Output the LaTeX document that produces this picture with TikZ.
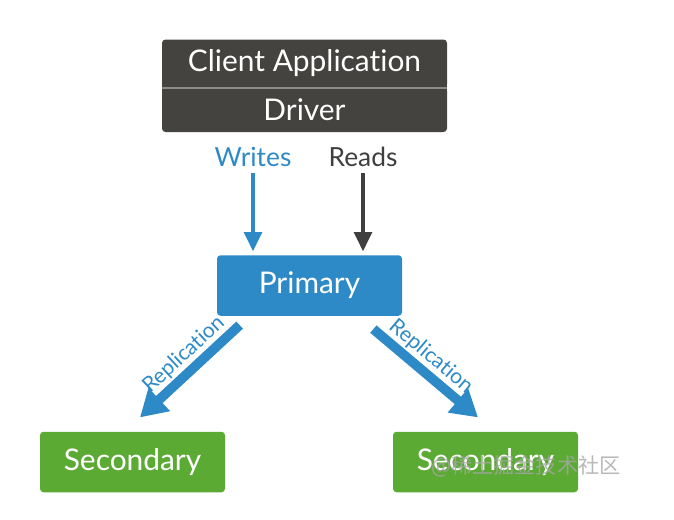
\documentclass[tikz,border=0pt]{standalone}
\usepackage{fontspec}
\setmainfont{Lato}[Ligatures=NoCommon]
\newfontfamily\cjkfont{Noto Sans CJK SC}
\usetikzlibrary{arrows.meta}
\definecolor{driver-gray}{HTML}{45433F}
\definecolor{rule-gray}{HTML}{8C8B88}
\definecolor{mongo-blue}{HTML}{2D8AC7}
\definecolor{mongo-green}{HTML}{5BAA34}
\definecolor{read-gray}{HTML}{3F3F3F}

\begin{document}
\begin{tikzpicture}[
    every node/.style={font=\fontsize{17}{20}\selectfont, text=white},
    box/.style={minimum width=3.7cm, minimum height=1.21cm, rounded corners=2pt},
    stack/.style={fill=driver-gray, minimum width=5.7cm},
    label/.style={font=\fontsize{15}{17}\selectfont},
    replabel/.style={sloped, above, inner sep=1pt, pos=0.45, text=mongo-blue,
      font=\fontsize{12}{14}\selectfont},
    feed/.style={-{Triangle[width=10pt,length=11pt]}, line width=2.2pt, shorten >=2pt},
    repl/.style={-{Triangle[width=17pt,length=15pt]}, line width=5.5pt, draw=mongo-blue}
  ]
    \useasboundingbox (0,0) rectangle (13.48,-10.38);
    % client side
    \node[stack, minimum height=0.96cm, rounded corners=2pt] (client) at (6.09,-1.27) {Client Application};
    \node[stack, minimum height=0.9cm, rounded corners=2pt] (driver) at (6.09,-2.19) {Driver};
    \fill[driver-gray] (client.south west) rectangle ([yshift=-3pt]client.south east);
    \fill[driver-gray] ([yshift=3pt]driver.north west) rectangle (driver.north east);
    \draw[rule-gray, line width=0.8pt] (client.south west) -- (client.south east);
    \node[label, text=mongo-blue] (writes) at (5.06,-3.14) {Writes};
    \node[label, text=read-gray] (reads) at (7.26,-3.14) {Reads};
    % replica set
    \node[box, fill=mongo-blue] (primary) at (6.19,-5.71) {Primary};
    \node[box, fill=mongo-green] (secLeft) at (2.65,-9.24) {Secondary};
    \node[box, fill=mongo-green] (secRight) at (9.71,-9.24) {Secondary};
    \draw[feed, mongo-blue] (writes.south) -- (writes.south |- primary.north);
    \draw[feed, read-gray] (reads.south) -- (reads.south |- primary.north);
    \draw[repl] ([shift={(0.46,-0.18)}]primary.south west) -- node[replabel] {Replication} ([shift={(0.15,0.28)}]secLeft.north);
    \draw[repl] ([shift={(-0.58,-0.26)}]primary.south east) -- node[replabel] {Replication} ([shift={(-0.15,0.28)}]secRight.north);
    % watermark
    \node[text=gray!70, opacity=0.8, font=\cjkfont\fontsize{12}{14}\selectfont] (mark) at (10.52,-9.32) {@稀土掘金技术社区};
  \end{tikzpicture}
\end{document}
